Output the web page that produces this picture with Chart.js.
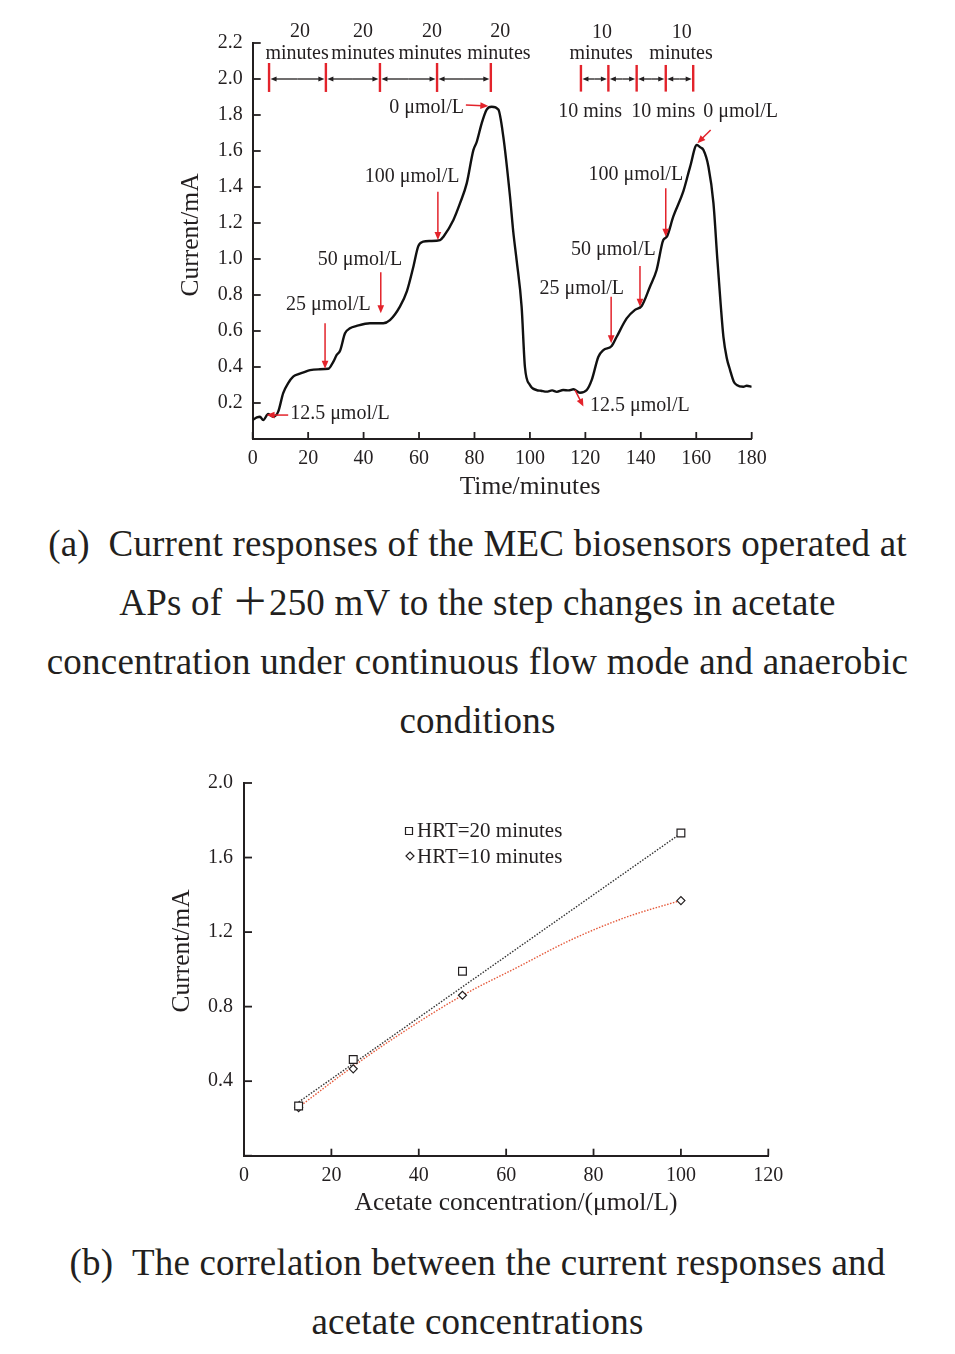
<!DOCTYPE html>
<html>
<head>
<meta charset="utf-8">
<script src="https://cdn.jsdelivr.net/npm/chart.js@4.4.0/dist/chart.umd.min.js"></script>
<style>
  html, body { margin: 0; padding: 0; background: #fff; }
  body { width: 955px; height: 1354px; position: relative; overflow: hidden; }
  canvas { position: absolute; left: 0; }
  .cap { position: absolute; left: 0; width: 955px; text-align: center; font-family: "Liberation Serif", "Noto Sans CJK SC", serif; font-size: 37px; line-height: 59px; color: #231f20; white-space: nowrap; letter-spacing: 0.2px; }
</style>
</head>
<body>
<canvas id="timeChart" width="955" height="505" style="top:0"></canvas>
<div class="cap" style="top:514px">
  <div>(a)&ensp;Current responses of the MEC biosensors operated at</div>
  <div>APs of ＋250 mV to the step changes in acetate</div>
  <div>concentration under continuous flow mode and anaerobic</div>
  <div>conditions</div>
</div>
<canvas id="fitChart" width="955" height="470" style="top:760px"></canvas>
<div class="cap" style="top:1233px">
  <div>(b)&ensp;The correlation between the current responses and</div>
  <div>acetate concentrations</div>
</div>
<script>
// (a) current vs time
const timeMin = [0, 1.5, 2.6, 3.8, 5.6, 7.4, 9.2, 11, 12.8, 14.6, 16.5, 18.3, 20.7, 23.7, 27.3, 29.1, 30.3, 31.5, 33.3, 35.1,
  37.5, 42.3, 47.1, 49.5, 53.1, 55.6, 58, 59.7, 61.5, 64, 67.6, 68.8, 72.4, 74.8, 77.2, 79.6, 80.8, 82.6, 84.4, 86.2,
  88.6, 90.4, 92.8, 94, 95.2, 97, 98.2, 100, 102.4, 104, 106, 108, 109.7, 112, 114, 115.7, 118, 120.5, 122.3, 124.7,
  126.5, 129.5, 131.3, 134.9, 137.9, 140.3, 143.3, 145.7, 148.1, 149.4, 151.7, 155.3, 157.8, 160.2, 161.5, 162.6, 164.4, 166.2, 167.6, 168.8,
  169.8, 171, 172.2, 173.5, 174.6, 177, 178.2, 180];
const currentMA = [0.105, 0.12, 0.124, 0.105, 0.139, 0.124, 0.152, 0.255, 0.31, 0.346, 0.36, 0.37, 0.383, 0.387, 0.39, 0.43, 0.467, 0.49, 0.587, 0.615,
  0.628, 0.643, 0.643, 0.66, 0.735, 0.82, 0.96, 1.07, 1.096, 1.1, 1.105, 1.124, 1.217, 1.31, 1.42, 1.605, 1.65, 1.754, 1.83, 1.846,
  1.83, 1.68, 1.35, 1.15, 0.994, 0.735, 0.4, 0.3, 0.272, 0.268, 0.263, 0.27, 0.262, 0.272, 0.27, 0.276, 0.257, 0.272, 0.328, 0.457,
  0.494, 0.517, 0.568, 0.67, 0.717, 0.739, 0.846, 0.939, 1.105, 1.124, 1.235, 1.374, 1.513, 1.633, 1.62, 1.605, 1.513, 1.31, 1.0, 0.75,
  0.568, 0.45, 0.383, 0.32, 0.3, 0.29, 0.296, 0.29];

// interval markers (minutes) and labels
const stepTimesHRT20 = [5.9, 26.4, 45.9, 66.5, 85.9];
const stepTimesHRT10 = [118.4, 128.3, 138.5, 149.0, 158.9];
const headerTop = [
  { text: '20', t: 17.1, y: 2.261 }, { text: '20', t: 39.8, y: 2.261 }, { text: '20', t: 64.7, y: 2.261 }, { text: '20', t: 89.3, y: 2.261 },
  { text: 'minutes', t: 16.0, y: 2.139 }, { text: 'minutes', t: 39.8, y: 2.139 }, { text: 'minutes', t: 64.0, y: 2.139 }, { text: 'minutes', t: 88.8, y: 2.139 },
  { text: '10', t: 126.0, y: 2.258 }, { text: '10', t: 154.8, y: 2.258 },
  { text: 'minutes', t: 125.7, y: 2.14 }, { text: 'minutes', t: 154.5, y: 2.14 },
  { text: '10 mins', t: 121.7, y: 1.817 }, { text: '10 mins', t: 148.1, y: 1.817 }, { text: '0 μmol/L', t: 176.0, y: 1.817 }
];
// concentration labels: text anchor + red arrow (from -> to)
const concLabels = [
  { text: '12.5 μmol/L', t: 13.5, y: 0.139, align: 'left', from: [12.8, 0.133], to: [5.0, 0.133] },
  { text: '25 μmol/L', t: 27.3, y: 0.744, align: 'center', from: [26.1, 0.643], to: [26.1, 0.39] },
  { text: '50 μmol/L', t: 38.7, y: 0.994, align: 'center', from: [46.2, 0.926], to: [46.2, 0.698] },
  { text: '100 μmol/L', t: 57.5, y: 1.456, align: 'center', from: [66.8, 1.374], to: [66.8, 1.106] },
  { text: '0 μmol/L', t: 76.2, y: 1.839, align: 'right', from: [76.9, 1.856], to: [85.0, 1.85] },
  { text: '12.5 μmol/L', t: 121.7, y: 0.185, align: 'left', from: [116.3, 0.272], to: [119.3, 0.18] },
  { text: '25 μmol/L', t: 118.7, y: 0.837, align: 'center', from: [129.3, 0.79], to: [129.3, 0.532] },
  { text: '50 μmol/L', t: 130.1, y: 1.05, align: 'center', from: [139.7, 0.961], to: [139.7, 0.735] },
  { text: '100 μmol/L', t: 138.2, y: 1.467, align: 'center', from: [149.0, 1.393], to: [149.0, 1.124] },
  { text: '', t: 0, y: 0, align: 'left', from: [165.2, 1.717], to: [160.4, 1.643] }
];

// (b) correlation
const concentrations = [12.5, 25, 50, 100];
const currentHRT20 = [0.267, 0.516, 0.99, 1.732];
const currentHRT10 = [0.258, 0.466, 0.861, 1.369];
const fitLineX = [12.5, 100];
const fitLineHRT20 = [0.288, 1.73];
const fitCurveX = [12.5, 25, 37.5, 50, 62.5, 75, 87.5, 100];
const fitCurveHRT10 = [0.26, 0.48, 0.68, 0.86, 1.01, 1.16, 1.28, 1.37];

const INK = '#231f20';
const RED = '#e3232b';
const SERIF = '"Liberation Serif", "Times New Roman", serif';
Chart.defaults.font.family = SERIF;
Chart.defaults.color = INK;

function pts(xs, ys) { return xs.map((x, i) => ({ x: x, y: ys[i] })); }

function arrow(ctx, x1, y1, x2, y2, head, color, lw) {
  const a = Math.atan2(y2 - y1, x2 - x1);
  const c = Math.cos(a), s = Math.sin(a);
  ctx.strokeStyle = color; ctx.fillStyle = color; ctx.lineWidth = lw;
  ctx.beginPath(); ctx.moveTo(x1, y1); ctx.lineTo(x2 - c * head * 0.7, y2 - s * head * 0.7); ctx.stroke();
  ctx.beginPath();
  ctx.moveTo(x2, y2);
  ctx.lineTo(x2 - head * c + head * 0.42 * s, y2 - head * s - head * 0.42 * c);
  ctx.lineTo(x2 - head * c - head * 0.42 * s, y2 - head * s + head * 0.42 * c);
  ctx.closePath(); ctx.fill();
}

// ticks drawn inward from the axes
const inwardTicks = {
  id: 'inwardTicks',
  afterDraw(chart) {
    const { ctx, chartArea, scales: { x, y } } = chart;
    ctx.save();
    ctx.strokeStyle = INK; ctx.lineWidth = 1.8;
    x.ticks.forEach(tk => {
      const px = x.getPixelForValue(tk.value);
      ctx.beginPath(); ctx.moveTo(px, chartArea.bottom); ctx.lineTo(px, chartArea.bottom - 7); ctx.stroke();
    });
    y.ticks.forEach(tk => {
      const py = y.getPixelForValue(tk.value);
      ctx.beginPath(); ctx.moveTo(chartArea.left, py); ctx.lineTo(chartArea.left + 8, py); ctx.stroke();
    });
    ctx.restore();
  }
};

function axisTitles(yTitle, yx, yy, xTitle, xx, xy) {
  return {
    id: 'axisTitles',
    afterDraw(chart) {
      const ctx = chart.ctx;
      ctx.save();
      ctx.fillStyle = INK; ctx.font = '25.5px ' + SERIF;
      ctx.textAlign = 'center'; ctx.textBaseline = 'middle';
      ctx.fillText(xTitle, xx, xy);
      ctx.translate(yx, yy); ctx.rotate(-Math.PI / 2);
      ctx.fillText(yTitle, 0, 0);
      ctx.restore();
    }
  };
}

const timeAnnotations = {
  id: 'timeAnnotations',
  afterDraw(chart) {
    const { ctx, scales: { x, y } } = chart;
    ctx.save();
    // black double arrows between the step marks
    [stepTimesHRT20, stepTimesHRT10].forEach(times => {
      for (let i = 0; i < times.length - 1; i++) {
        const a = x.getPixelForValue(times[i]), b = x.getPixelForValue(times[i + 1]);
        const py = y.getPixelForValue(2.0);
        const m = (a + b) / 2;
        arrow(ctx, m, py, a + 1.5, py, 6, INK, 1.3);
        arrow(ctx, m, py, b - 1.5, py, 6, INK, 1.3);
      }
    });
    // red step marks
    ctx.strokeStyle = RED; ctx.lineWidth = 2.4;
    stepTimesHRT20.forEach(t => {
      const px = x.getPixelForValue(t);
      ctx.beginPath(); ctx.moveTo(px, y.getPixelForValue(2.089)); ctx.lineTo(px, y.getPixelForValue(1.928)); ctx.stroke();
    });
    stepTimesHRT10.forEach(t => {
      const px = x.getPixelForValue(t);
      ctx.beginPath(); ctx.moveTo(px, y.getPixelForValue(2.078)); ctx.lineTo(px, y.getPixelForValue(1.93)); ctx.stroke();
    });
    ctx.fillStyle = INK; ctx.font = '20px ' + SERIF; ctx.textBaseline = 'middle';
    ctx.textAlign = 'center';
    headerTop.forEach(h => ctx.fillText(h.text, x.getPixelForValue(h.t), y.getPixelForValue(h.y)));
    concLabels.forEach(c => {
      if (c.text) {
        ctx.fillStyle = INK; ctx.textAlign = c.align;
        ctx.fillText(c.text, x.getPixelForValue(c.t), y.getPixelForValue(c.y));
      }
      arrow(ctx, x.getPixelForValue(c.from[0]), y.getPixelForValue(c.from[1]),
        x.getPixelForValue(c.to[0]), y.getPixelForValue(c.to[1]), 8, RED, 1.5);
    });
    ctx.restore();
  }
};

new Chart(document.getElementById('timeChart'), {
  type: 'scatter',
  data: {
    datasets: [{
      data: pts(timeMin, currentMA),
      showLine: true,
      borderColor: '#111',
      borderWidth: 2.4,
      pointRadius: 0,
      cubicInterpolationMode: 'monotone'
    }]
  },
  options: {
    responsive: false,
    animation: false,
    devicePixelRatio: 1,
    events: [],
    layout: { padding: { top: 43, right: 203.3, left: 0, bottom: 0 } },
    plugins: { legend: { display: false }, tooltip: { enabled: false } },
    scales: {
      x: {
        type: 'linear', min: 0, max: 180,
        grid: { display: false, drawTicks: false },
        border: { display: true, color: INK, width: 2 },
        ticks: { stepSize: 20, padding: 8, font: { size: 20 }, color: INK, maxRotation: 0 },
        afterFit(s) { s.height = 66; }
      },
      y: {
        type: 'linear', min: 0, max: 2.2,
        grid: { display: false, drawTicks: false },
        border: { display: true, color: INK, width: 2 },
        ticks: { stepSize: 0.2, padding: 10, font: { size: 20 }, color: INK,
          callback: v => (Math.abs(v) < 1e-9 ? '' : v.toFixed(1)) },
        afterFit(s) { s.width = 252.7; }
      }
    }
  },
  plugins: [inwardTicks, timeAnnotations, axisTitles('Current/mA', 191, 235, 'Time/minutes', 530, 487)]
});

const fitLegend = {
  id: 'fitLegend',
  afterDraw(chart) {
    const ctx = chart.ctx;
    ctx.save();
    ctx.strokeStyle = INK; ctx.fillStyle = '#fff'; ctx.lineWidth = 1.2;
    ctx.beginPath(); ctx.rect(405.5, 67.5, 7, 7); ctx.fill(); ctx.stroke();
    ctx.beginPath(); ctx.moveTo(410, 92); ctx.lineTo(414, 96); ctx.lineTo(410, 100); ctx.lineTo(406, 96); ctx.closePath(); ctx.fill(); ctx.stroke();
    ctx.fillStyle = INK; ctx.font = '21px ' + SERIF; ctx.textAlign = 'left'; ctx.textBaseline = 'middle';
    ctx.fillText('HRT=20 minutes', 417, 71);
    ctx.fillText('HRT=10 minutes', 417, 97);
    ctx.restore();
  }
};

new Chart(document.getElementById('fitChart'), {
  type: 'scatter',
  data: {
    datasets: [
      { data: pts(concentrations, currentHRT20), pointStyle: 'rect', pointRadius: 5.5, borderColor: INK, borderWidth: 1.2,
        pointBackgroundColor: '#fff', order: 0 },
      { data: pts(concentrations, currentHRT10), pointStyle: 'rectRot', pointRadius: 4, borderColor: INK, borderWidth: 1.2,
        pointBackgroundColor: '#fff', order: 0 },
      { data: pts(fitLineX, fitLineHRT20), showLine: true, pointRadius: 0, borderColor: '#333', borderWidth: 1.4,
        borderDash: [1.5, 1.5], order: 2 },
      { data: pts(fitCurveX, fitCurveHRT10), showLine: true, pointRadius: 0, borderColor: '#e5593a', borderWidth: 1.4,
        borderDash: [1.5, 1.5], cubicInterpolationMode: 'monotone', order: 1 }
    ]
  },
  options: {
    responsive: false,
    animation: false,
    devicePixelRatio: 1,
    events: [],
    layout: { padding: { top: 20.7, right: 186.7, left: 0, bottom: 0 } },
    plugins: { legend: { display: false }, tooltip: { enabled: false } },
    scales: {
      x: {
        type: 'linear', min: 0, max: 120,
        grid: { display: false, drawTicks: false },
        border: { display: true, color: INK, width: 2 },
        ticks: { stepSize: 20, padding: 8, font: { size: 20 }, color: INK, maxRotation: 0 },
        afterFit(s) { s.height = 74.3; }
      },
      y: {
        type: 'linear', min: 0, max: 2.0,
        grid: { display: false, drawTicks: false },
        border: { display: true, color: INK, width: 2 },
        ticks: { stepSize: 0.4, padding: 11, font: { size: 20 }, color: INK,
          callback: v => (Math.abs(v) < 1e-9 ? '' : v.toFixed(1)) },
        afterFit(s) { s.width = 244; }
      }
    }
  },
  plugins: [inwardTicks, fitLegend, axisTitles('Current/mA', 182, 191, 'Acetate concentration/(μmol/L)', 516, 443)]
});
</script>
</body>
</html>
